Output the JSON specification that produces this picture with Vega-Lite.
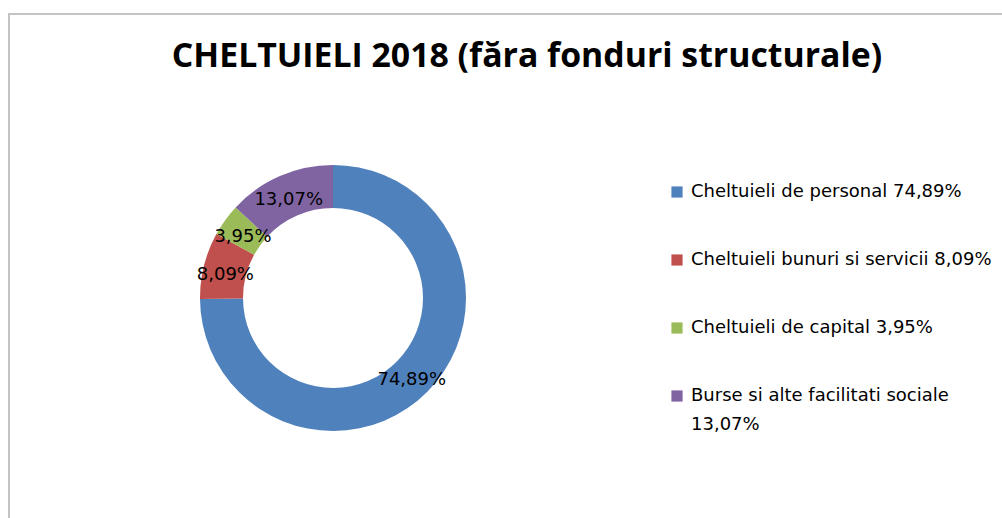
{
  "$schema": "https://vega.github.io/schema/vega-lite/v6.json",
  "width": 1010,
  "height": 520,
  "autosize": "none",
  "padding": {"left": 9, "top": 14, "right": 0, "bottom": 0},
  "background": "white",
  "config": {
    "view": {"stroke": "#c4c4c4", "strokeWidth": 2},
    "legend": {"padding": 0},
    "style": {"guide-label": {"lineHeight": 29}}
  },
  "title": {
    "text": "CHELTUIELI 2018 (făra fonduri structurale)",
    "font": "Open Sans",
    "fontSize": 33.8,
    "fontWeight": "bold",
    "color": "#000000",
    "anchor": "middle",
    "frame": "group",
    "dx": 13,
    "dy": 64
  },
  "data": {
    "values": [
      {"idx": 1, "category": "Cheltuieli de personal 74,89%", "value": 74.89, "label": "74,89%"},
      {"idx": 2, "category": "Cheltuieli bunuri si servicii 8,09%", "value": 8.09, "label": "8,09%"},
      {"idx": 3, "category": "Cheltuieli de capital 3,95%", "value": 3.95, "label": "3,95%"},
      {"idx": 4, "category": "Burse si alte facilitati sociale|13,07%", "value": 13.07, "label": "13,07%"}
    ]
  },
  "encoding": {
    "theta": {"field": "value", "type": "quantitative", "stack": true},
    "order": {"field": "idx", "type": "quantitative"},
    "x": {"value": 324},
    "y": {"value": 284}
  },
  "layer": [
    {
      "mark": {"type": "arc", "outerRadius": 133, "innerRadius": 90},
      "encoding": {
        "color": {
          "field": "category",
          "type": "nominal",
          "sort": ["Cheltuieli de personal 74,89%", "Cheltuieli bunuri si servicii 8,09%", "Cheltuieli de capital 3,95%", "Burse si alte facilitati sociale|13,07%"],
          "scale": {
            "domain": ["Cheltuieli de personal 74,89%", "Cheltuieli bunuri si servicii 8,09%", "Cheltuieli de capital 3,95%", "Burse si alte facilitati sociale|13,07%"],
            "range": ["#4F81BD", "#C0504D", "#9BBB59", "#8064A2"]
          },
          "legend": {
            "title": null,
            "orient": "none",
            "legendX": 659,
            "legendY": 169,
            "symbolType": "square",
            "symbolSize": 125,
            "symbolStrokeWidth": 0,
            "labelFont": "DejaVu Sans",
            "labelFontSize": 18,
            "labelColor": "#000000",
            "labelOffset": 5,
            "labelLimit": 400,
            "rowPadding": 50,
            "labelExpr": "split(datum.label, '|')"
          }
        }
      }
    },
    {
      "mark": {"type": "text", "radius": 111, "font": "DejaVu Sans", "fontSize": 18, "color": "#000000", "dy": 4},
      "encoding": {
        "text": {"field": "label", "type": "nominal"}
      }
    }
  ]
}
